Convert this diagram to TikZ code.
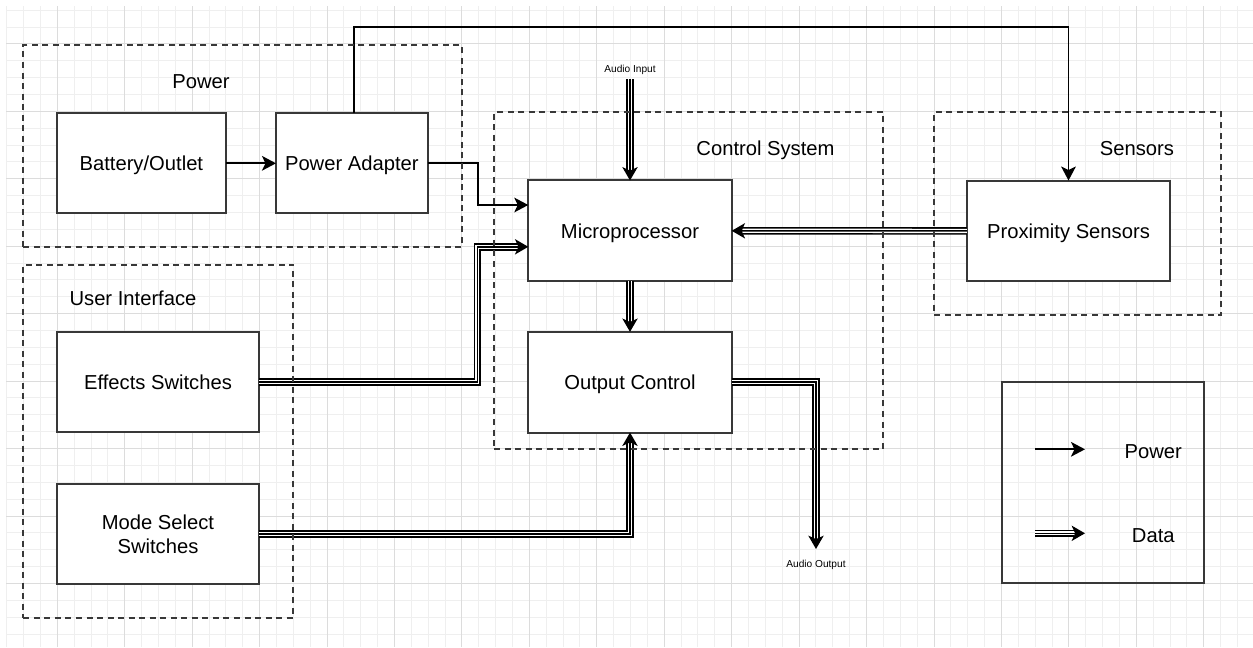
\documentclass[tikz,border=0pt]{standalone}
\usepackage{fontspec}
\setmainfont{Liberation Sans}
\usetikzlibrary{arrows.meta}
\newdimen\px \px=0.75pt
\newcommand\mainsize{\fontsize{15.15pt}{18.15pt}\selectfont}
\newcommand\tinysize{\fontsize{7.6pt}{9pt}\selectfont}
\definecolor{edge}{HTML}{383838}
\definecolor{gridminor}{HTML}{EFEFEF}
\definecolor{gridmajor}{HTML}{DCDCDC}

\begin{document}
\begin{tikzpicture}[x=0.75pt, y=-0.75pt,
  minorgrid/.style={draw=gridminor, line width=0.75pt},
  majorgrid/.style={draw=gridmajor, line width=0.75pt},
  blk/.style={draw=edge, line width=1.5pt, fill=white, inner sep=0pt, outer sep=0pt,
    minimum width=203.4\px, minimum height=100.7\px, font=\mainsize},
  onerow/.style={text height=10.85pt, text depth=0pt},
  grp/.style={draw=edge, line width=1.5pt, dash pattern=on 4.5pt off 3.4pt,
    inner sep=0pt, outer sep=0pt},
  lbl/.style={font=\mainsize, inner sep=0pt, text height=10.85pt, text depth=0pt},
  small/.style={font=\tinysize, inner sep=0pt, text height=5.45pt, text depth=0pt},
  pwrline/.style={line width=1.4pt, draw=black,
    -{Stealth[length=10.5pt, width=11pt, inset=2.6pt]}},
  databus/.style={line width=1.1pt, draw=black,
    -{Stealth[length=10pt, width=11.5pt, inset=2.6pt]},
    preaction={draw, -, line width=5.6pt, black, shorten >=8pt},
    preaction={draw, -, line width=3.2pt, white, shorten >=8pt}}]

% page and background grid
\fill[white] (0,0) rectangle (1253,647);
\useasboundingbox (0,0) rectangle (1253,647);
\begin{scope}
  \clip (6,6) rectangle (1253,647);
  \foreach \k in {0,...,73} \draw[minorgrid] ({6.7+16.86*\k},6) -- ++(0,641);
  \foreach \k in {0,...,37} \draw[minorgrid] (6,{10.2+16.86*\k}) -- ++(1247,0);
  \foreach \k in {3,7,...,71} \draw[majorgrid] ({6.7+16.86*\k},6) -- ++(0,641);
  \foreach \k in {2,6,...,34} \draw[majorgrid] (6,{10.2+16.86*\k}) -- ++(1247,0);
\end{scope}

% blocks
\node[blk, onerow, minimum width=169.3\px, minimum height=100.3\px] (battery) at (141.35,163.3) {Battery/Outlet};
\node[blk, onerow, minimum width=151.7\px, minimum height=100.3\px] (adapter) at (351.85,163.3) {Power Adapter};
\node[blk, onerow] (micro) at (630,230.8) {Microprocessor};
\node[blk, onerow] (outctl) at (630,382.2) {Output Control};
\node[blk, onerow] (prox) at (1068.5,230.9) {Proximity Sensors};
\node[blk, onerow, minimum width=202.6\px] (effects) at (158,382) {Effects Switches};
\node[blk, align=center, minimum width=202.6\px] (mode) at (158,534) {Mode Select\\Switches};

% external audio terminals
\node[small] (ain) at (630,68.5) {Audio Input};
\coordinate (ainend) at (630,79.3);
\node[small] (aout) at (816,563.5) {Audio Output};
\coordinate (aoutend) at (816,549);

% power wiring
\coordinate (ptop) at (700,27.3);
\draw[pwrline] (battery.east) -- (adapter.west);
\draw[pwrline] ([xshift=2.4\px]adapter.north) |- (ptop) -| (prox.north);
\draw[pwrline] (adapter.east) -- ++(50.6,0) |- ([yshift=25.8\px]micro.west);

% data paths
\draw[databus] (ainend) -- (micro.north);
\draw[databus] (micro.south) -- (outctl.north);
\draw[databus] (prox.west) -- (micro.east);
\draw[databus] (effects.east) -- ++(218,0) |- ([yshift=-16\px]micro.west);
\draw[databus] (mode.east) -| (outctl.south);
\draw[databus] (outctl.east) -| (aoutend);

% subsystem groups
\node[grp, minimum width=438.4\px, minimum height=201.7\px] (pwrgrp) at (242.5,145.85) {};
\node[grp, minimum width=270\px, minimum height=353.2\px] (uigrp) at (158.3,441.1) {};
\node[grp, minimum width=389.3\px, minimum height=336.7\px] (ctlgrp) at (688.65,280.65) {};
\node[grp, minimum width=287\px, minimum height=202.7\px] (sensgrp) at (1077.5,213.65) {};
\node[lbl] (pwrlbl) at (201,81) {Power};
\node[lbl] (uilbl) at (133,298.5) {User Interface};
\node[lbl] (ctllbl) at (765.5,148.5) {Control System};
\node[lbl] (senslbl) at (1137,148.5) {Sensors};

% legend
\node[draw=edge, line width=1.5pt, inner sep=0pt, outer sep=0pt,
  minimum width=202.3\px, minimum height=201.6\px] (legend) at (1102.85,482.5) {};
\coordinate (lp1) at (1035,449.3);
\coordinate (lp2) at (1085,449.3);
\coordinate (ld1) at (1035,533.3);
\coordinate (ld2) at (1085,533.3);
\draw[pwrline] (lp1) -- (lp2);
\draw[databus] (ld1) -- (ld2);
\node[lbl] (lpwr) at (1153.3,451.5) {Power};
\node[lbl] (ldat) at (1153.3,535.5) {Data};
\end{tikzpicture}
\end{document}
